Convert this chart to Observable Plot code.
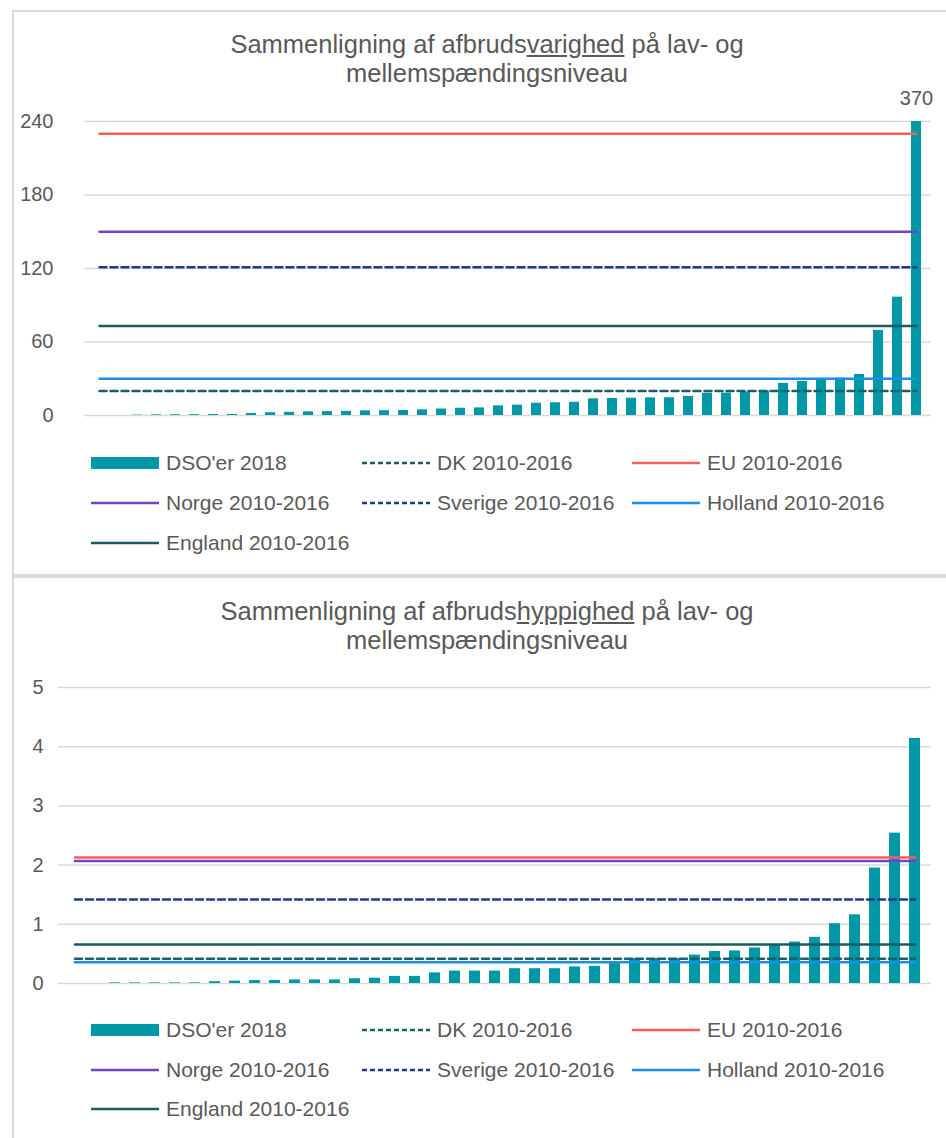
<!DOCTYPE html>
<html>
<head>
<meta charset="utf-8">
<script src="https://cdn.jsdelivr.net/npm/d3@7"></script>
<script src="https://cdn.jsdelivr.net/npm/@observablehq/plot@0.6"></script>
<style>
  html, body { margin: 0; padding: 0; background: #fff; }
  body { width: 946px; height: 1138px; overflow: hidden; position: relative;
         font-family: "Liberation Sans", Arial, sans-serif; color: #595959; }
  .panel { position: absolute; left: 12px; width: 960px; box-sizing: border-box;
           border: 2px solid #d9d9d9; background: #fff; }
  .title { position: absolute; left: 0; width: 974px; text-align: center;
           font-size: 25.5px; line-height: 29px; color: #595959; }
  .chart { position: absolute; left: 0; }
  .item { position: absolute; height: 24px; display: flex; align-items: center;
          font-size: 21px; color: #595959; white-space: nowrap; }
  .item svg { margin-right: 7px; }
</style>
</head>
<body>
<div class="panel" style="top:10px;height:566px"></div>
<div class="panel" style="top:576px;height:600px"></div>

<div class="title" style="top:30px">Sammenligning af afbruds<u>varighed</u> på lav- og<br>mellemspændingsniveau</div>
<div class="title" style="top:597px">Sammenligning af afbruds<u>hyppighed</u> på lav- og<br>mellemspændingsniveau</div>

<div id="top-chart" class="chart" style="top:85px"></div>
<div id="bottom-chart" class="chart" style="top:670px"></div>
<div id="top-legend"></div>
<div id="bottom-legend"></div>

<script>
// Afbrudsvarighed per DSO 2018 (minutter), sorteret stigende
const durationValues = [
  0, 0, 0.3, 0.5, 0.6, 0.7, 0.8, 0.9, 1.6, 2.3, 2.6, 3.0, 3.2, 3.4, 3.8, 3.9,
  4.1, 4.6, 5.3, 5.9, 6.2, 7.9, 8.4, 10.0, 10.4, 10.8, 13.6, 13.9, 14.1, 14.4,
  14.5, 15.6, 18.2, 18.3, 19.3, 19.9, 26.2, 27.8, 30.3, 30.5, 33.5, 69.5, 96.6, 370
];

// Afbrudshyppighed per DSO 2018 (antal), sorteret stigende
const frequencyValues = [
  0, 0, 0.01, 0.01, 0.01, 0.01, 0.01, 0.03, 0.04, 0.05, 0.05, 0.06, 0.06, 0.06,
  0.08, 0.09, 0.12, 0.12, 0.18, 0.21, 0.21, 0.21, 0.25, 0.25, 0.25, 0.28, 0.29,
  0.35, 0.42, 0.42, 0.42, 0.48, 0.54, 0.55, 0.60, 0.66, 0.70, 0.78, 1.01, 1.16,
  1.95, 2.54, 4.14
];

// Referenceniveauer 2010-2016
const referenceNames = ["DK 2010-2016", "EU 2010-2016", "Norge 2010-2016",
                        "Sverige 2010-2016", "Holland 2010-2016", "England 2010-2016"];
const durationReferences = [20, 230, 150, 121, 30, 73];
const frequencyReferences = [0.42, 2.13, 2.07, 1.42, 0.36, 0.66];

const durationTicks = [0, 60, 120, 180, 240];
const frequencyTicks = [0, 1, 2, 3, 4, 5];

const barName = "DSO'er 2018";
const barColor = "#0097a7";
const referenceColors = ["#1d5f66", "#fb5b5b", "#6f45c4", "#1e3a8f", "#1a8fe6", "#1d5a60"];
const referenceDashed = [true, false, false, true, false, false];
const fontFamily = "'Liberation Sans', Arial, sans-serif";

function drawChart({values, references, ticks, height, marginLeft, marginRight, marginTop, marginBottom, tickPadding}) {
  const categories = values.map((_, i) => `DSO ${i + 1}`);
  const bars = values.map((value, i) => ({dso: categories[i], value}));
  const top = ticks[ticks.length - 1];
  const lineMarks = referenceNames.map((name, k) =>
    Plot.lineY(categories.map(dso => ({dso, value: references[k]})), {
      x: "dso", y: "value",
      stroke: referenceColors[k], strokeWidth: 2.5,
      strokeDasharray: referenceDashed[k] ? "7,4" : null
    })
  );
  return Plot.plot({
    width: 946, height, marginLeft, marginRight, marginTop, marginBottom,
    style: {fontFamily, fontSize: "20px", color: "#595959", background: "transparent", overflow: "visible"},
    x: {domain: categories, paddingInner: 0.45, paddingOuter: 0.225, axis: null},
    y: {domain: [0, top], clamp: true, axis: null},
    marks: [
      Plot.gridY(ticks, {stroke: "#d9d9d9", strokeOpacity: 1, strokeWidth: 1.5}),
      Plot.axisY(ticks, {tickSize: 0, tickPadding, label: null, tickFormat: d => String(d), fontSize: 20, fill: "#595959"}),
      Plot.barY(bars, {x: "dso", y: "value", fill: barColor}),
      ...lineMarks,
      Plot.text(bars.filter(d => d.value > top), {
        x: "dso", y: "value", text: d => String(d.value),
        dy: -23, fontSize: 20, fill: "#595959"
      })
    ]
  });
}

document.getElementById("top-chart").append(drawChart({
  values: durationValues, references: durationReferences, ticks: durationTicks,
  height: 340, marginLeft: 84, marginRight: 15, marginTop: 36, marginBottom: 10, tickPadding: 31
}));

document.getElementById("bottom-chart").append(drawChart({
  values: frequencyValues, references: frequencyReferences, ticks: frequencyTicks,
  height: 323, marginLeft: 58, marginRight: 15, marginTop: 17, marginBottom: 10, tickPadding: 15
}));

// Forklaring: tre kolonner, tre rækker
function drawLegend(container, rowTops) {
  const entries = [{name: barName, bar: true}].concat(
    referenceNames.map((name, k) => ({name, color: referenceColors[k], dashed: referenceDashed[k]}))
  );
  const columns = [91, 362, 632];
  entries.forEach((e, i) => {
    const item = document.createElement("div");
    item.className = "item";
    item.style.left = columns[i % 3] + "px";
    item.style.top = (rowTops[Math.floor(i / 3)] - 12) + "px";
    const sw = d3.create("svg").attr("width", 68).attr("height", 14);
    if (e.bar) {
      sw.append("rect").attr("x", 0).attr("y", 1).attr("width", 68).attr("height", 12).attr("fill", barColor);
    } else {
      sw.append("line").attr("x1", 0).attr("x2", 68).attr("y1", 7).attr("y2", 7)
        .attr("stroke", e.color).attr("stroke-width", 2.5)
        .attr("stroke-dasharray", e.dashed ? "5,3" : null);
    }
    item.append(sw.node());
    const label = document.createElement("span");
    label.textContent = e.name;
    item.append(label);
    container.append(item);
  });
}

drawLegend(document.getElementById("top-legend"), [463, 503, 543]);
drawLegend(document.getElementById("bottom-legend"), [1030, 1070, 1109]);
</script>
</body>
</html>
